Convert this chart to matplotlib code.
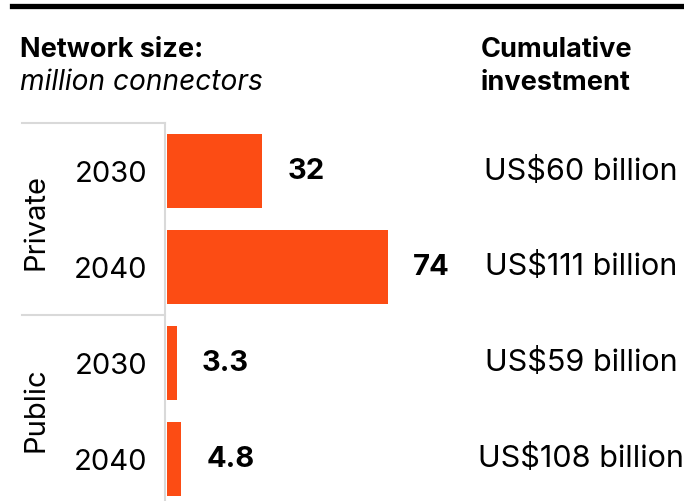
import matplotlib
matplotlib.use("Agg")
import matplotlib.pyplot as plt
import matplotlib.transforms as mtransforms
from matplotlib.lines import Line2D

plt.rcParams['font.family'] = ['Inter', 'DejaVu Sans']

# Data
groups = ['Private', 'Public']
years = ['2030', '2040', '2030', '2040']
connectors = [32, 74, 3.3, 4.8]
value_labels = ['32', '74', '3.3', '4.8']
investment = ['US$60 billion', 'US$111 billion', 'US$59 billion', 'US$108 billion']

bar_color = '#FC4C14'
grid_color = '#d9d9d9'

W, H = 684, 502
fig = plt.figure(figsize=(W / 100, H / 100), dpi=100)

# axes: x from 165px to right edge, y from 124px to bottom
ax = fig.add_axes([165 / W, 0, 1 - 165 / W, (H - 124) / H])

pos = list(range(len(connectors)))
ax.barh(pos, connectors, height=0.77, color=bar_color, left=0.7)
ax.set_xlim(0, 519 / 2.98)
ax.set_ylim(3.44, -0.5)

for s in ['top', 'right', 'bottom']:
    ax.spines[s].set_visible(False)
ax.spines['left'].set_color(grid_color)
ax.spines['left'].set_linewidth(1.5)
ax.set_xticks([])
ax.set_yticks(pos)
ax.set_yticklabels(years, fontsize=21)
ax.tick_params(axis='y', length=0, pad=13)

# value labels next to bars
for p, v, lab in zip(pos, connectors, value_labels):
    ax.annotate(lab, (v + 0.7, p), xytext=(25, 0), textcoords='offset pixels',
                ha='left', va='center', fontsize=21, fontweight='bold')

# investment column
blend = mtransforms.blended_transform_factory(fig.transFigure, ax.transData)
for p, txt in zip(pos, investment):
    ax.text(581 / W, p - 0.01, txt, transform=blend, ha='center', va='center',
            fontsize=22, clip_on=False)

# group separators and labels
for yy in [-0.5, 1.5]:
    ax.add_line(Line2D([22 / W, 165 / W], [yy, yy], transform=blend,
                       color=grid_color, lw=1.5, clip_on=False))
for g, yy in zip(groups, [0.52, 2.48]):
    ax.text(36 / W, yy, g, transform=blend, rotation=90, ha='center',
            va='center', fontsize=21, clip_on=False)

# top rule
fig.add_artist(Line2D([12 / W, 1], [1 - 7 / H, 1 - 7 / H], color='black', lw=3.8))

# headers
fig.text(20 / W, 1 - 57 / H, 'Network size:', fontsize=19.5, fontweight='bold',
         va='baseline', ha='left')
fig.text(20 / W, 1 - 90 / H, 'million connectors', fontsize=20.2, style='italic',
         va='baseline', ha='left')
fig.text(481 / W, 1 - 57 / H, 'Cumulative', fontsize=19.5, fontweight='bold',
         va='baseline', ha='left')
fig.text(481 / W, 1 - 90 / H, 'investment', fontsize=19.5, fontweight='bold',
         va='baseline', ha='left')

fig.savefig('out.png', dpi=100, facecolor='white')
